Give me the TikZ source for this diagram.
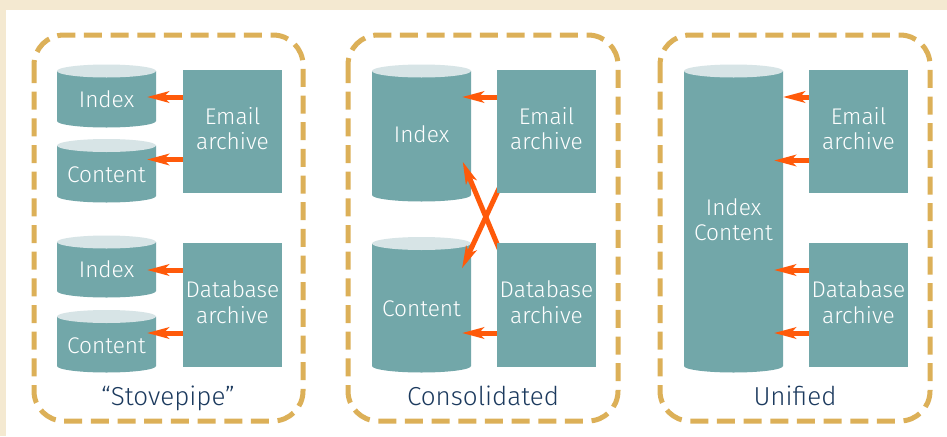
\documentclass[tikz,border=0pt]{standalone}
\usepackage{fontspec}
\setmainfont{Fira Sans Light}
\usetikzlibrary{arrows.meta,calc}
\definecolor{beige}{HTML}{F4E9D1}
\definecolor{tealc}{HTML}{72A7A9}
\definecolor{ltop}{HTML}{D7E4E6}
\definecolor{orng}{HTML}{FF5A0A}
\definecolor{gold}{HTML}{DCB058}
\definecolor{navy}{HTML}{1C3A5E}
\pgfdeclarelayer{fg}
\pgfsetlayers{main,fg}
% cylinder: #1 left x, #2 right x, #3 top ellipse centre y, #4 bottom ellipse centre y
\newcommand\dbcyl[4]{%
  \fill[tealc] (#1,#3) -- (#1,#4) arc[start angle=180,end angle=360,x radius=37.125pt,y radius=4.875pt] -- (#2,#3) -- cycle;
  \fill[ltop] ({(#1+#2)/2},#3) ellipse[x radius=37.125pt,y radius=4.875pt];}
\begin{document}
\begin{tikzpicture}[x=0.75pt,y=-0.75pt,
  archbox/.style={rectangle,fill=tealc,text=white,inner sep=0pt,minimum width=74.25pt,minimum height=92.5pt,align=center,text depth=4.5pt,font=\fontsize{17}{19.2}\selectfont},
  cyltext/.style={text=white,inner sep=0pt,align=center,font=\fontsize{17}{19.2}\selectfont},
  arr/.style={draw=orng,line width=3.75pt,-{Stealth[length=16.5pt,width=8.5pt,inset=4pt]}},
  frame/.style={draw=gold,line width=3.75pt,rounded corners=22.5pt,dash pattern=on 13.5pt off 6.5pt},
  caption/.style={text=navy,inner sep=0pt,font=\fontsize{19.5}{23}\selectfont,anchor=base}]
\useasboundingbox (0,0) rectangle (947,436);
\fill[beige] (0,0) rectangle (947,436);
\fill[white] (6,10) rectangle (947,436);

% frames
\draw[frame] (34,35) rectangle (303,421);
\draw[frame] (348,35) rectangle (618,421);
\draw[frame] (660,35) rectangle (930,421);

% cylinders
\dbcyl{57}{156}{71}{121}
\dbcyl{57}{156}{145.5}{196}
\dbcyl{57}{156}{242}{291}
\dbcyl{57}{156}{316.5}{366}
\dbcyl{372}{471}{71}{195}
\dbcyl{372}{471}{243.5}{366}
\dbcyl{684}{783}{71}{366}

\node[cyltext,anchor=base] (tidx1) at (106.5,107.3) {Index};
\node[cyltext,anchor=base] (tcon1) at (106.5,182) {Content};
\node[cyltext,anchor=base] (tidx2) at (106.5,277.7) {Index};
\node[cyltext,anchor=base] (tcon2) at (106.5,353.3) {Content};
\node[cyltext,anchor=base] (tidx3) at (421.5,142.5) {Index};
\node[cyltext,anchor=base] (tcon3) at (421.5,316) {Content};
\node[cyltext] (tuni) at (733.5,219.5) {Index\\Content};

% archive boxes
\begin{pgfonlayer}{fg}
\node[archbox] (email1) at (232.5,131.5) {Email\\archive};
\node[archbox] (db1) at (232.5,305) {Database\\archive};
\node[archbox] (email2) at (546.5,131.5) {Email\\archive};
\node[archbox] (db2) at (546.5,305) {Database\\archive};
\node[archbox] (email3) at (858.5,131.5) {Email\\archive};
\node[archbox] (db3) at (858.5,305) {Database\\archive};
\end{pgfonlayer}

% arrow tips
\coordinate (a1) at (147,97);
\coordinate (a2) at (147,159.5);
\coordinate (a3) at (147,270);
\coordinate (a4) at (147,333);
\coordinate (b1) at (462,97);
\coordinate (b2) at (462,333);
\coordinate (b3) at (462,268.3);
\coordinate (b4) at (462.7,161.7);
\coordinate (c1) at (783,97);
\coordinate (c2) at (774,160.5);
\coordinate (c3) at (774,270);
\coordinate (c4) at (774,333);

\draw[arr] (email1.west |- a1) -- (a1);
\draw[arr] (email1.west |- a2) -- (a2);
\draw[arr] (db1.west |- a3) -- (a3);
\draw[arr] (db1.west |- a4) -- (a4);
\draw[arr] (email2.west |- b1) -- (b1);
\draw[arr] (db2.west |- b2) -- (b2);
\draw[arr] ($(email2.south west)!-6pt!(b3)$) -- (b3);
\draw[arr] ($(db2.north west)!-6pt!(b4)$) -- (b4);
\draw[arr] (email3.west |- c1) -- (c1);
\draw[arr] (email3.west |- c2) -- (c2);
\draw[arr] (db3.west |- c3) -- (c3);
\draw[arr] (db3.west |- c4) -- (c4);

% captions
\node[caption] (cap1) at (168,405.5) {“Stovepipe”};
\node[caption] (cap2) at (483,405.5) {Consolidated};
\node[caption] (cap3) at (795,405.5) {Unified};
\end{tikzpicture}
\end{document}
